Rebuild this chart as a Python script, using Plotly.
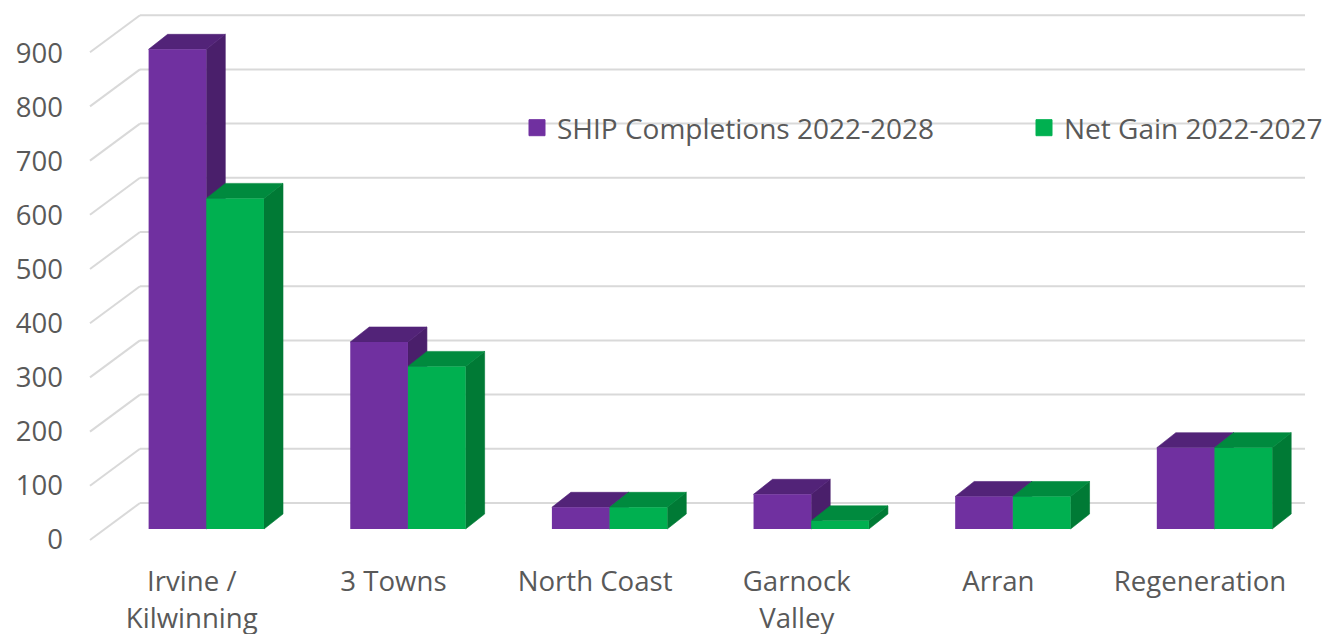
import plotly.graph_objects as go

categories = ["Irvine /<br>Kilwinning", "3 Towns", "North Coast", "Garnock<br>Valley", "Arran", "Regeneration"]
ship_completions = [885, 345, 40, 64, 60, 150]
net_gain = [610, 300, 40, 15, 60, 150]
y_ticks = [0, 100, 200, 300, 400, 500, 600, 700, 800, 900]
series_names = ["SHIP Completions 2022-2028", "Net Gain 2022-2027"]

W, H = 1333, 634
PLOT_L, PLOT_B = 64, 561
CENTER0, STEP = 206.3, 201.64       # px position of first group, px per category
PX_PER_UNIT = 0.542                 # bar / back wall scale
BAR_BASE_PX, WALL_BASE_PX = 529, 503
FRONT_ZERO_PX, FRONT_PX_PER_UNIT = 539, 0.54
BAR_W = 57.7 / STEP
DEPTH_X, DEPTH_Y = 19 / STEP, 15 / PX_PER_UNIT
LABEL_SHIFT = -14.5 / STEP

TEXT = "#595959"
GRID = "#D9D9D9"
PURPLE, PURPLE_TOP, PURPLE_SIDE = "#7030A0", "#522378", "#4A1F6B"
GREEN, GREEN_TOP, GREEN_SIDE = "#00B050", "#008A3E", "#007A35"
FONT = "Open Sans"
TICK_SIZE = 27.6
Y_TICK_SIZE = 27.5
LEGEND_SIZE = 28
LINE_SIZE = 28.8


def px_x(p):
    return (p - CENTER0) / STEP


def label(text):
    return "<br>".join(f'<span style="font-size:{TICK_SIZE}px">{t}</span>' for t in text.split("<br>"))


def faces(values, offset):
    """Top and side polygons of the 3-D bars, in axis units."""
    tx, ty, sx, sy = [], [], [], []
    for i, v in enumerate(values):
        l = i + offset * BAR_W - BAR_W / 2
        r = l + BAR_W
        tx += [l, r, r + DEPTH_X, l + DEPTH_X, l, None]
        ty += [v, v, v + DEPTH_Y, v + DEPTH_Y, v, None]
        sx += [r, r + DEPTH_X, r + DEPTH_X, r, r, None]
        sy += [0, DEPTH_Y, v + DEPTH_Y, v, 0, None]
    return tx, ty, sx, sy


fig = go.Figure()
xs = list(range(len(categories)))

# invisible trace that keeps the front-plane tick axis alive
fig.add_trace(go.Scatter(x=[None], y=[None], yaxis="y", showlegend=False, hoverinfo="skip"))

for values, off, top, side in [(ship_completions, -0.5, PURPLE_TOP, PURPLE_SIDE),
                               (net_gain, 0.5, GREEN_TOP, GREEN_SIDE)]:
    tx, ty, sx, sy = faces(values, off)
    fig.add_trace(go.Scatter(x=sx, y=sy, yaxis="y2", mode="lines", fill="toself", fillcolor=side,
                             line=dict(width=0.6, color=side), showlegend=False, hoverinfo="skip"))
    fig.add_trace(go.Scatter(x=tx, y=ty, yaxis="y2", mode="lines", fill="toself", fillcolor=top,
                             line=dict(width=0.6, color=top), showlegend=False, hoverinfo="skip"))

for name, values, color in [(series_names[0], ship_completions, PURPLE), (series_names[1], net_gain, GREEN)]:
    fig.add_trace(go.Bar(x=xs, y=values, yaxis="y3", name=name, marker=dict(color=color, line=dict(width=0)),
                         width=BAR_W, showlegend=False, legendgroup=name))

for name, color, lw in [(series_names[0], PURPLE, 462), (series_names[1], GREEN, 255)]:
    fig.add_trace(go.Scatter(x=[None], y=[None], yaxis="y3", mode="markers", name=name, legendgroup=name,
                             legendwidth=lw,
                             marker=dict(symbol="square", size=16, color=color, line=dict(width=1, color=color))))

shapes = []
wall_lift = (BAR_BASE_PX - WALL_BASE_PX) / PX_PER_UNIT
for v in y_ticks:
    yb = v + wall_lift
    yf = yb - 37 / PX_PER_UNIT
    line = dict(color=GRID, width=2)
    shapes.append(dict(type="line", xref="x", yref="y2", layer="below", x0=px_x(90), x1=px_x(140), y0=yf, y1=yb, line=line))
    shapes.append(dict(type="line", xref="x", yref="y2", layer="below", x0=px_x(140), x1=px_x(1305), y0=yb, y1=yb, line=line))

bar_range = [(BAR_BASE_PX - PLOT_B) / PX_PER_UNIT, BAR_BASE_PX / PX_PER_UNIT]
front_range = [(FRONT_ZERO_PX - PLOT_B) / FRONT_PX_PER_UNIT, FRONT_ZERO_PX / FRONT_PX_PER_UNIT]

fig.update_layout(
    width=W, height=H, autosize=False,
    margin=dict(l=PLOT_L, r=0, t=0, b=H - PLOT_B),
    paper_bgcolor="white", plot_bgcolor="rgba(0,0,0,0)",
    font=dict(family=FONT, color=TEXT, size=TICK_SIZE),
    barmode="group", bargap=0.428, bargroupgap=0,
    shapes=shapes,
    xaxis=dict(range=[px_x(PLOT_L), px_x(W)], tickvals=[i + LABEL_SHIFT for i in xs], ticktext=[label(c) for c in categories],
               tickfont=dict(size=LINE_SIZE, color=TEXT, family=FONT), showgrid=False, zeroline=False,
               showline=False, ticks="", fixedrange=True, automargin=False),
    yaxis=dict(range=front_range, tickvals=y_ticks, ticktext=[str(v) for v in y_ticks],
               tickfont=dict(size=Y_TICK_SIZE, color=TEXT, family=FONT), showgrid=False, zeroline=False,
               showline=False, ticks="", fixedrange=True, automargin=False),
    yaxis2=dict(range=bar_range, overlaying="y", visible=False, fixedrange=True),
    yaxis3=dict(range=bar_range, overlaying="y", visible=False, fixedrange=True),
    legend=dict(orientation="h", x=(517 - PLOT_L) / (W - PLOT_L), y=1 - 103 / PLOT_B,
                xanchor="left", yanchor="top", bgcolor="rgba(0,0,0,0)",
                entrywidthmode="pixels", itemsizing="trace",
                font=dict(size=LEGEND_SIZE, color=TEXT, family=FONT)),
    showlegend=True,
)

fig.write_html("out.html", config=dict(displayModeBar=False),
               post_script="document.body.style.margin='0';document.documentElement.style.overflow='hidden';")
